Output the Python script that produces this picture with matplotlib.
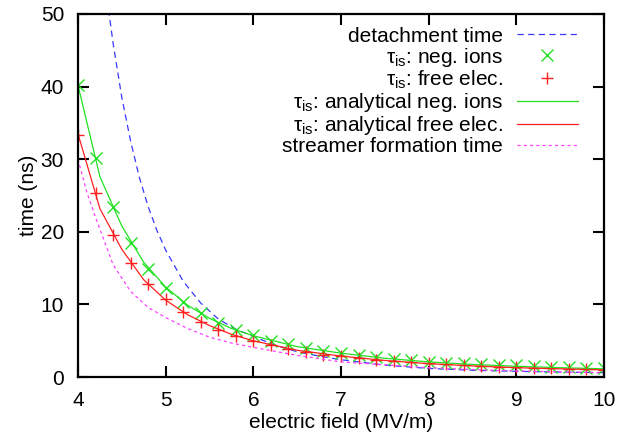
import numpy as np
import matplotlib
matplotlib.use("Agg")
import matplotlib.pyplot as plt

plt.rcParams['font.family'] = ['Liberation Sans', 'DejaVu Sans']
plt.rcParams['mathtext.fontset'] = 'custom'
plt.rcParams['mathtext.rm'] = 'Liberation Sans'
plt.rcParams['mathtext.it'] = 'Liberation Sans:italic'

# simulation points (every 0.2 MV/m)
field_pts = [4.0, 4.2, 4.4, 4.6, 4.8, 5.0, 5.2, 5.4, 5.6, 5.8, 6.0, 6.2, 6.4, 6.6, 6.8, 7.0,
             7.2, 7.4, 7.6, 7.8, 8.0, 8.2, 8.4, 8.6, 8.8, 9.0, 9.2, 9.4, 9.6, 9.8, 10.0]
tau_neg_ions = [40.2, 30.1, 23.4, 18.4, 14.9, 12.3, 10.4, 8.8, 7.5, 6.5, 5.8, 5.0, 4.5, 4.0, 3.6, 3.3,
                3.0, 2.75, 2.55, 2.35, 2.15, 2.0, 1.9, 1.8, 1.7, 1.62, 1.52, 1.45, 1.38, 1.3, 1.24]
tau_free_elec = [33.3, 25.3, 19.6, 15.7, 12.8, 10.7, 9.0, 7.6, 6.5, 5.7, 5.0, 4.4, 3.9, 3.5, 3.1, 2.85,
                 2.6, 2.4, 2.2, 2.05, 1.9, 1.75, 1.65, 1.55, 1.45, 1.38, 1.3, 1.22, 1.15, 1.1, 1.05]

# analytical curves
field_an = [4.0, 4.25, 4.5, 4.75, 5.0, 5.25, 5.5, 5.75, 6.0, 6.5, 7.0, 7.5, 8.0, 8.5, 9.0, 9.5, 10.0]
an_neg_ions = [40.2, 27.6, 20.8, 15.8, 12.4, 9.9, 8.1, 6.7, 5.7, 4.2, 3.3, 2.6, 2.1, 1.75, 1.5, 1.3, 1.15]
an_free_elec = [33.5, 23.2, 17.6, 13.4, 10.6, 8.6, 7.1, 5.9, 5.0, 3.7, 2.9, 2.3, 1.85, 1.55, 1.3, 1.15, 1.0]

# detachment time
field_det = [4.2, 4.3, 4.4, 4.5, 4.6, 4.7, 4.8, 4.9, 5.0, 5.2, 5.4, 5.6, 5.8, 6.0,
             6.25, 6.5, 6.75, 7.0, 7.5, 8.0, 8.5, 9.0, 9.5, 10.0]
t_detach = [68, 55, 46, 38.5, 32.5, 27.5, 23.5, 20.2, 17.5, 13.2, 10.2, 8.0, 6.6, 5.6,
            4.4, 3.5, 2.9, 2.4, 1.65, 1.2, 0.95, 0.8, 0.7, 0.62]

# streamer formation time
field_str = [4.0, 4.1, 4.2, 4.4, 4.6, 4.8, 5.0, 5.25, 5.5, 5.75, 6.0, 6.5, 7.0, 7.5, 8.0, 8.5, 9.0, 9.5, 10.0]
t_streamer = [30.0, 25.5, 22.0, 15.5, 11.8, 9.6, 8.2, 6.7, 5.5, 4.7, 4.1, 3.0, 2.1, 1.7, 1.3, 1.05, 0.85, 0.72, 0.6]

fig = plt.figure(figsize=(6.36, 4.34), dpi=100)
ax = fig.add_axes([0.1226, 0.131, 0.8271, 0.837])

ax.plot(field_det, t_detach, color='#3838ff', lw=0.9, dashes=(5, 3.5),
        label='detachment time')
ax.plot(field_pts, tau_neg_ions, ls='none', marker='x', ms=8, mew=1.0, color='#22e022',
        label=u'τ$_{\\rm is}$: neg. ions')
ax.plot(field_pts, tau_free_elec, ls='none', marker='+', ms=9, mew=1.0, color='#ff2020',
        label=u'τ$_{\\rm is}$: free elec.')
ax.plot(field_an, an_neg_ions, color='#22e022', lw=0.9,
        label=u'τ$_{\\rm is}$: analytical neg. ions')
ax.plot(field_an, an_free_elec, color='#ff2020', lw=0.9,
        label=u'τ$_{\\rm is}$: analytical free elec.')
ax.plot(field_str, t_streamer, color='#ff40ff', lw=0.9, dashes=(2.5, 2.5),
        label='streamer formation time')

ax.set_xlim(4, 10)
ax.set_ylim(0, 50)
ax.set_xticks([4, 5, 6, 7, 8, 9, 10])
ax.set_yticks([0, 10, 20, 30, 40, 50])
ax.tick_params(direction='in', length=8, width=1.5, labelsize=15,
               top=True, right=True, pad=10)
for s in ax.spines.values():
    s.set_linewidth(1.6)

ax.set_xlabel('electric field (MV/m)', fontsize=15, labelpad=2)
ax.set_ylabel('time (ns)', fontsize=15, labelpad=2)

ax.legend(loc='upper right', bbox_to_anchor=(0.9506, 0.965), frameon=False,
          markerfirst=False, fontsize=15, handlelength=2.95, handletextpad=0.67,
          labelspacing=0.0, borderpad=0, borderaxespad=0)

fig.savefig('out.png', dpi=100)
